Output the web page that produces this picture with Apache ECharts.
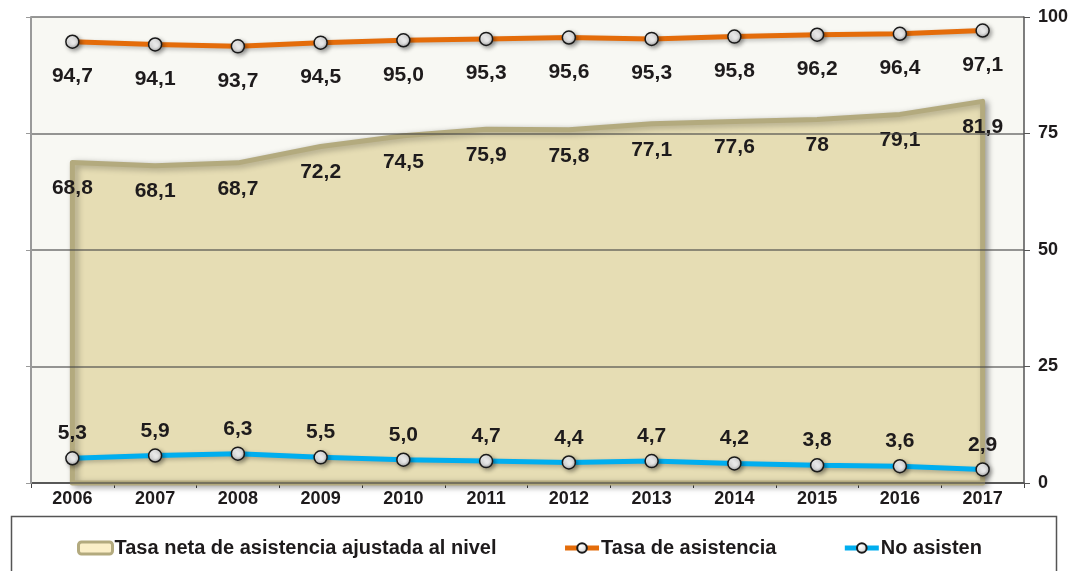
<!DOCTYPE html>
<html><head><meta charset="utf-8">
<script src="https://cdn.jsdelivr.net/npm/echarts@6/dist/echarts.min.js"></script>
<style>html,body{margin:0;padding:0;background:#fff}#c{width:1074px;height:571px}</style>
</head><body><div id="c"></div>
<script>
const years = ['2006','2007','2008','2009','2010','2011','2012','2013','2014','2015','2016','2017'];
const tasaNeta = [68.8,68.1,68.7,72.2,74.5,75.9,75.8,77.1,77.6,78,79.1,81.9];
const tasaAsistencia = [94.7,94.1,93.7,94.5,95.0,95.3,95.6,95.3,95.8,96.2,96.4,97.1];
const noAsisten = [5.3,5.9,6.3,5.5,5.0,4.7,4.4,4.7,4.2,3.8,3.6,2.9];
const yTicks = [0,25,50,75,100];
const names = ['Tasa neta de asistencia ajustada al nivel','Tasa de asistencia','No asisten'];

const FONT = '"Liberation Sans", Arial, sans-serif';
const TXT = '#1e1b1c';
const markerColor = {type:'radial',x:0.4,y:0.35,r:0.7,colorStops:[{offset:0,color:'#ffffff'},{offset:0.55,color:'#e4e4e4'},{offset:1,color:'#9a9a9a'}]};
const fmt1 = p => p.value.toFixed(1).replace('.', ',');
const fmtRaw = p => String(p.value).replace('.', ',');
const lblStyle = {fontFamily:FONT,fontSize:21,fontWeight:'bold',color:TXT};

const chart = echarts.init(document.getElementById('c'));
chart.setOption({
  animation:false,
  backgroundColor:'#ffffff',
  textStyle:{fontFamily:FONT},
  grid:{left:31,right:50,top:17,bottom:88,show:true,backgroundColor:'#f8f8f3',borderWidth:0},
  graphic:[{type:'rect',left:9,top:514,shape:{width:1045,height:70},style:{fill:'none',stroke:'#555',lineWidth:1.5},z:-1}],
  legend:{
    left:72, top:533, itemGap:66, itemWidth:34, itemHeight:12,
    textStyle:{fontFamily:FONT,fontSize:20,fontWeight:'bold',color:TXT,padding:[0,0,0,-3]},
    data:[
      {name:names[0],icon:'roundRect',itemStyle:{color:'#fbefc8',borderColor:'#b3aa7e',borderWidth:3}},
      {name:names[1],lineStyle:{width:5,color:'#e46c0a'}},
      {name:names[2],lineStyle:{width:5,color:'#00aeef'}}
    ]
  },
  xAxis:{type:'category',data:years,boundaryGap:true,
    axisLine:{lineStyle:{color:'#444',width:1.5}},
    axisTick:{show:true,length:5,lineStyle:{color:'#444'}},
    axisLabel:{fontFamily:FONT,fontSize:18,fontWeight:'bold',color:TXT,margin:7}},
  yAxis:[
    {type:'value',position:'left',min:0,max:100,interval:25,z:10,
      axisLine:{show:true,lineStyle:{color:'#9a9a9a',width:2}},
      axisTick:{show:true,length:5,lineStyle:{color:'#9a9a9a'}},
      axisLabel:{show:false},splitLine:{show:false}},
    {type:'value',position:'right',min:0,max:100,interval:25,z:10,
      axisLine:{show:true,lineStyle:{color:'#555',width:1.5}},
      axisTick:{show:true,length:6,lineStyle:{color:'#555'}},
      axisLabel:{fontFamily:FONT,fontSize:18,fontWeight:'bold',color:TXT,margin:14},
      splitLine:{show:true,lineStyle:{color:'rgba(70,70,70,0.75)',width:1.5}}}
  ],
  series:[
    {name:names[0],type:'custom',yAxisIndex:1,z:1,
      itemStyle:{color:'#e4dbb2'},
      data:tasaNeta.map((v,i)=>[i,v]),
      renderItem:function(params,api){
        if(params.dataIndex!==0) return null;
        const pts=[];
        for(let i=0;i<tasaNeta.length;i++) pts.push(api.coord([i,tasaNeta[i]]));
        pts.push(api.coord([tasaNeta.length-1,0]));
        pts.push(api.coord([0,0]));
        return {type:'polygon',shape:{points:pts},
          style:{fill:'#e6ddb4',stroke:'#b3aa7e',lineWidth:5,lineJoin:'round',
            shadowBlur:6,shadowColor:'rgba(0,0,0,0.3)',shadowOffsetX:3,shadowOffsetY:2}};
      }
    },
    {name:'lbl',type:'line',yAxisIndex:1,data:tasaNeta,symbol:'circle',symbolSize:1,showSymbol:true,
      itemStyle:{color:'rgba(0,0,0,0)'},lineStyle:{width:0,opacity:0},z:3,silent:true,
      label:Object.assign({show:true,position:'bottom',distance:15,formatter:fmtRaw},lblStyle)},
    {name:names[1],type:'line',yAxisIndex:1,data:tasaAsistencia,z:4,
      lineStyle:{color:'#e46c0a',width:5,shadowBlur:4,shadowColor:'rgba(0,0,0,0.25)',shadowOffsetY:2},
      itemStyle:{color:markerColor,borderColor:'#1a1a1a',borderWidth:1.5,shadowBlur:4,shadowColor:'rgba(0,0,0,0.35)',shadowOffsetX:2,shadowOffsetY:2},
      symbol:'circle',symbolSize:13,
      label:Object.assign({show:true,position:'bottom',distance:17,formatter:fmt1},lblStyle)},
    {name:names[2],type:'line',yAxisIndex:1,data:noAsisten,z:4,
      lineStyle:{color:'#00aeef',width:5,shadowBlur:4,shadowColor:'rgba(0,0,0,0.25)',shadowOffsetY:2},
      itemStyle:{color:markerColor,borderColor:'#1a1a1a',borderWidth:1.5,shadowBlur:4,shadowColor:'rgba(0,0,0,0.35)',shadowOffsetX:2,shadowOffsetY:2},
      symbol:'circle',symbolSize:13,
      label:Object.assign({show:true,position:'top',distance:7,formatter:fmt1},lblStyle)}
  ]
});
</script></body></html>
